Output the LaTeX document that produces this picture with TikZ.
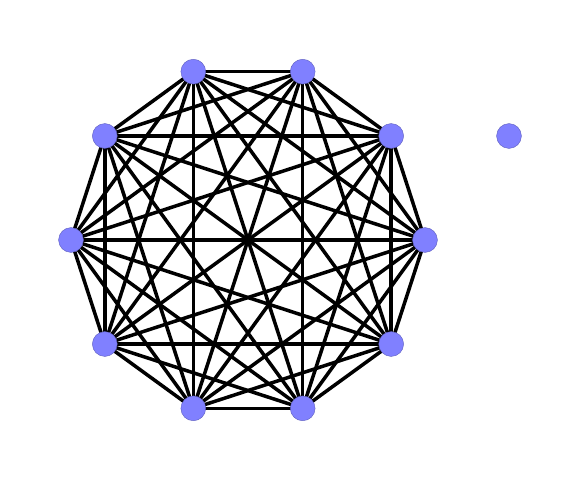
\documentclass[tikz,border=0pt]{standalone}
\usetikzlibrary{backgrounds}
\definecolor{vertBlue}{HTML}{8080FF}
\definecolor{vertEdge}{HTML}{6060C0}
\tikzset{
  graph vertex/.style={circle, fill=vertBlue, draw=vertEdge, line width=0.3pt,
    minimum size=0.62cm, inner sep=0pt},
  graph edge/.style={draw=black, line width=2.5pt}
}
\begin{document}
\begin{tikzpicture}[x=0.025cm,y=-0.025cm]
  \useasboundingbox (0,0) rectangle (580,480);
  % decagon vertices
  \foreach \i in {0,...,9} {
    \node[graph vertex] (v\i) at ({248+177*cos(36*\i)},{240-177*sin(36*\i)}) {};
  }
  \node[graph vertex] (w) at (509,136) {};
  % all edges, kept behind the vertices
  \begin{scope}[on background layer]
    \foreach \i in {0,...,8} {
      \pgfmathtruncatemacro{\next}{\i+1}
      \foreach \j in {\next,...,9} {
        \draw[graph edge] (v\i.center) -- (v\j.center);
      }
    }
  \end{scope}
\end{tikzpicture}
\end{document}
